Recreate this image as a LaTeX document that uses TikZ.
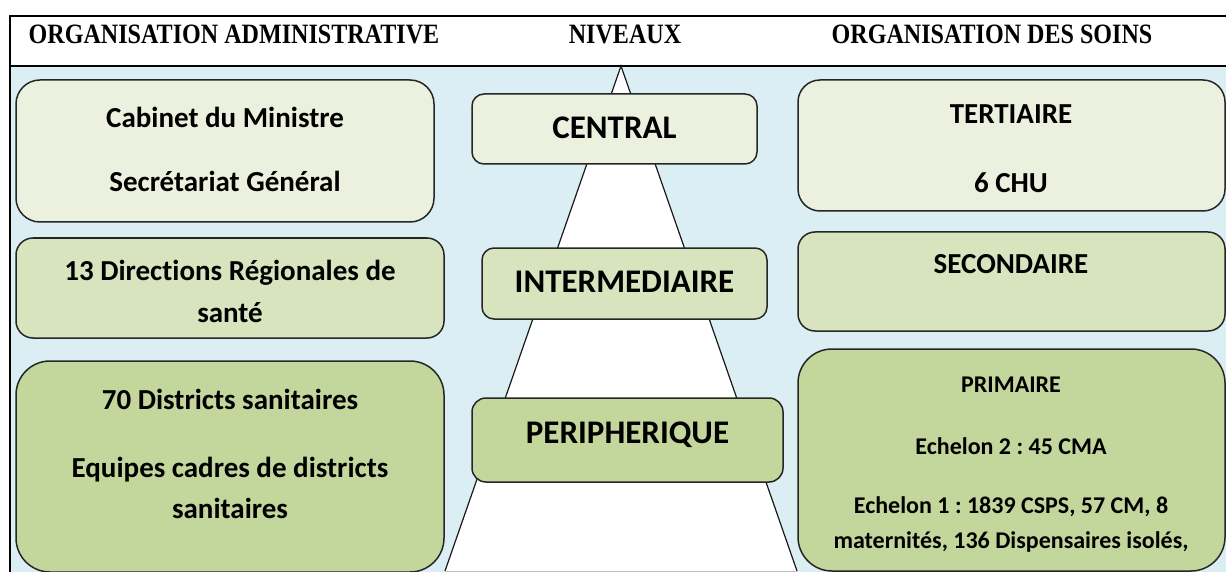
\documentclass[tikz,border=0pt]{standalone}
\usepackage{fontspec}
\setmainfont{Carlito}[Ligatures=NoCommon]
\newfontfamily\hdrfont{Liberation Serif}[FakeStretch=0.86]
\definecolor{bgblue}{HTML}{DAEEF3}
\definecolor{boxA}{HTML}{EBF1DE}
\definecolor{boxB}{HTML}{D7E4BD}
\definecolor{boxC}{HTML}{C3D69B}
\frenchspacing
\begin{document}
\begin{tikzpicture}[x=1pt,y=-1pt,
  frameline/.style={line width=1.6pt,black},
  box/.style={draw=black!85,line width=1.5pt,inner sep=0pt,outer sep=0pt},
  hdr/.style={anchor=base,inner sep=0pt,font=\hdrfont\bfseries\fontsize{28}{30}\selectfont},
  txtL/.style={anchor=base,inner sep=0pt,font=\frenchspacing\bfseries\fontsize{29}{34}\selectfont},
  txtC/.style={anchor=base,inner sep=0pt,font=\frenchspacing\bfseries\fontsize{33}{38}\selectfont},
  txtS/.style={anchor=base,inner sep=0pt,font=\frenchspacing\bfseries\fontsize{24}{28}\selectfont}]
\useasboundingbox (0,0) rectangle (1226,572);
% background
\fill[white] (0,0) rectangle (1226,572);
\fill[bgblue] (10,66) rectangle (1226,572);
% frame
\coordinate (ftl) at (10,16);
\coordinate (ftr) at (1226,16);
\coordinate (fbl) at (10,572);
\coordinate (hl) at (10,66);
\coordinate (hr) at (1226,66);
\draw[frameline] (fbl) -- (ftl) -- (ftr);
\draw[frameline] (hl) -- (hr);
% headers
\node[hdr] (h1) at (234,43.2) {ORGANISATION ADMINISTRATIVE};
\node[hdr] (h2) at (625,43.2) {NIVEAUX};
\node[hdr] (h3) at (992,43.2) {ORGANISATION DES SOINS};
% triangle
\coordinate (apex) at (621,66);
\coordinate (tbl) at (445,571);
\coordinate (tbr) at (797,571);
\fill[white] (apex) -- (tbl) -- (tbr) -- cycle;
\draw[line width=1.2pt,black!90] (tbl) -- (apex) -- (tbr);
\draw[line width=1pt,black!25] (tbl) -- (tbr);
% left column
\node[box,fill=boxA,rounded corners=24pt,minimum width=418pt,minimum height=142pt] (cab) at (225,151) {};
\node[box,fill=boxB,rounded corners=17pt,minimum width=428pt,minimum height=100pt] (drs) at (230,288) {};
\node[box,fill=boxC,rounded corners=34pt,minimum width=428pt,minimum height=211pt] (ds) at (230,466.5) {};
% centre column
\node[box,fill=boxA,rounded corners=12pt,minimum width=285pt,minimum height=70pt] (cen) at (614.5,129) {};
\node[box,fill=boxB,rounded corners=12pt,minimum width=285pt,minimum height=71pt] (int) at (624.5,283.5) {};
\node[box,fill=boxC,rounded corners=14pt,minimum width=311pt,minimum height=84pt] (per) at (627.5,440) {};
% right column
\node[box,fill=boxA,rounded corners=22pt,minimum width=427pt,minimum height=131pt] (ter) at (1011.5,145.5) {};
\node[box,fill=boxB,rounded corners=17pt,minimum width=427pt,minimum height=99pt] (sec) at (1011.5,281.5) {};
\node[box,fill=boxC,rounded corners=34pt,minimum width=427pt,minimum height=222pt] (pri) at (1011.5,460) {};
% texts left
\node[txtL] (t1) at (225,127.2) {Cabinet du Ministre};
\node[txtL] (t2) at (225,191.2) {Secrétariat Général};
\node[txtL] (t3) at (230,280.2) {13 Directions Régionales de};
\node[txtL] (t4) at (230,322.2) {santé};
\node[txtL] (t5) at (230,409.2) {70 Districts sanitaires};
\node[txtL] (t6) at (230,477.2) {Equipes cadres de districts};
\node[txtL] (t7) at (230,518.2) {sanitaires};
% texts centre
\node[txtC] (c1) at (614.5,138.4) {CENTRAL};
\node[txtC] (c2) at (624.5,292.4) {INTERMEDIAIRE};
\node[txtC] (c3) at (627.5,443.4) {PERIPHERIQUE};
% texts right
\node[txtL] (r1) at (1011,123.2) {TERTIAIRE};
\node[txtL] (r2) at (1011,192.2) {6 CHU};
\node[txtL] (r3) at (1011,273.2) {SECONDAIRE};
\node[txtS] (r4) at (1011,392.6) {PRIMAIRE};
\node[txtS] (r5) at (1011,454.6) {Echelon 2 : 45 CMA};
\node[txtS] (r6) at (1011,513.6) {Echelon 1 : 1839 CSPS, 57 CM, 8};
\node[txtS] (r7) at (1011,548.6) {maternités, 136 Dispensaires isolés,};
\end{tikzpicture}
\end{document}
